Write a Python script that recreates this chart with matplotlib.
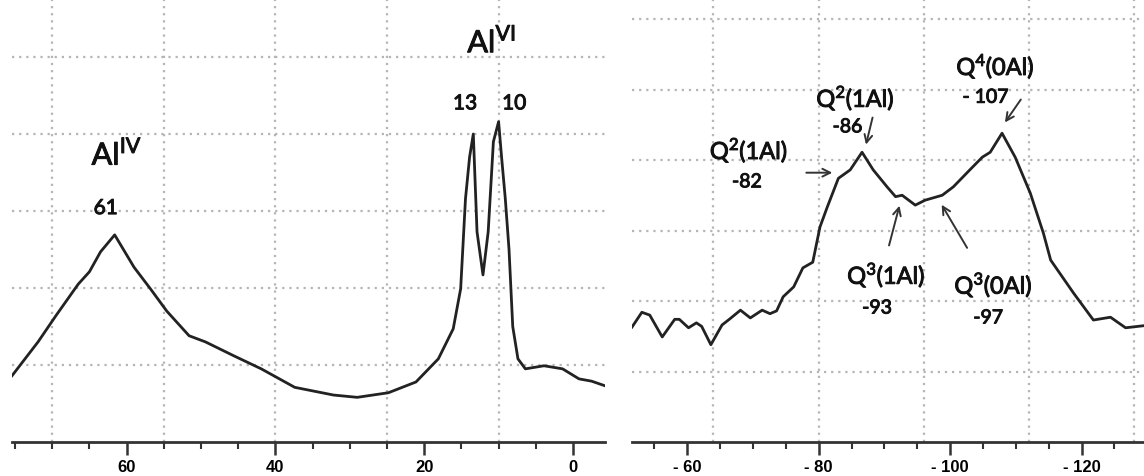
import matplotlib
matplotlib.use("Agg")
import matplotlib.pyplot as plt
import matplotlib.patheffects as pe
from matplotlib.ticker import MultipleLocator, FuncFormatter

plt.rcParams['font.family'] = ['Lato', 'DejaVu Sans']
plt.rcParams['mathtext.fontset'] = 'custom'
plt.rcParams['mathtext.rm'] = 'Lato'

# 27Al spectrum (left)
al_shift = [75.4, 71.9, 69.5, 66.5, 65.0, 63.5, 61.6, 59.0, 56.8, 54.6, 51.6, 49.4,
            45.6, 41.9, 37.4, 32.2, 29.0, 24.8, 21.1, 18.1, 16.1, 15.1, 14.45, 13.9,
            13.4, 12.9, 12.1, 11.4, 10.7, 10.0, 9.6, 9.1, 8.6, 8.1, 7.4, 6.4, 3.9,
            1.4, -0.8, -2.5, -4.3]
al_int = [0.86, 1.30, 1.64, 2.05, 2.21, 2.47, 2.69, 2.27, 1.99, 1.70, 1.38, 1.30,
          1.12, 0.95, 0.71, 0.61, 0.58, 0.64, 0.78, 1.08, 1.47, 1.99, 3.16, 3.70,
          4.00, 2.73, 2.17, 2.73, 3.90, 4.16, 3.70, 3.16, 2.50, 1.50, 1.08, 0.95, 0.99,
          0.95, 0.82, 0.79, 0.73]

# 29Si spectrum (right)
si_shift = [-51.6, -53.1, -54.3, -56.2, -58.1, -58.8, -60.2, -61.4, -62.2, -63.6,
            -65.3, -66.4, -68.1, -69.6, -71.4, -72.6, -73.6, -74.6, -76.2, -77.6,
            -79.1, -80.2, -81.3, -83.0, -84.8, -86.6, -88.3, -90.4, -91.7, -92.7,
            -94.7, -96.2, -98.8, -100.5, -103.0, -104.9, -106.1, -107.9, -109.9,
            -112.2, -114.2, -115.3, -118.8, -121.8, -124.4, -126.7, -129.5]
si_int = [1.63, 1.84, 1.80, 1.49, 1.74, 1.74, 1.62, 1.69, 1.64, 1.38, 1.66, 1.74,
          1.87, 1.76, 1.87, 1.82, 1.86, 2.06, 2.20, 2.47, 2.55, 3.05, 3.33, 3.74,
          3.86, 4.11, 3.86, 3.62, 3.48, 3.50, 3.36, 3.43, 3.50, 3.62, 3.86, 4.04,
          4.11, 4.38, 4.04, 3.53, 2.96, 2.58, 2.11, 1.73, 1.77, 1.62, 1.65]

al_xgrid = [70, 55, 40, 25, 10]
al_ygrid = [1, 2, 3, 4, 5]
si_xgrid = [-64, -80, -96, -112, -128]
si_ygrid = [1, 2, 3, 4, 5, 6]

# peak labels: (text, x, y, size, align)
al_labels = [(r'Al$^{\rm IV}$', 64.7, 3.6, 22, 'left'),
             ('61', 62.8, 2.96, 15, 'center'),
             (r'Al$^{\rm VI}$', 14.2, 5.06, 22, 'left'),
             ('13', 14.5, 4.32, 15, 'center'),
             ('10', 7.9, 4.32, 15, 'center')]
si_labels = [(r'Q$^{2}$(1Al)', -69.4, 4.14, 17), ('-82', -69.1, 3.69, 14),
             (r'Q$^{2}$(1Al)', -85.6, 4.88, 17), ('-86', -84.4, 4.47, 14),
             (r'Q$^{4}$(0Al)', -106.9, 5.33, 17), ('- 107', -105.4, 4.89, 14),
             (r'Q$^{3}$(1Al)', -90.3, 2.37, 17), ('-93', -88.9, 1.90, 14),
             (r'Q$^{3}$(0Al)', -106.6, 2.23, 17), ('-97', -105.8, 1.76, 14)]
# arrows: (x_from, y_from, x_to, y_to)
si_arrows = [(-77.7, 3.82, -82.5, 3.82),
             (-88.3, 4.64, -87.1, 4.18),
             (-111.0, 4.89, -108.1, 4.50),
             (-90.6, 2.75, -92.4, 3.39),
             (-102.8, 2.72, -98.5, 3.40)]

heavy = [pe.withStroke(linewidth=0.7, foreground='#111111')]

fig = plt.figure(figsize=(11.44, 4.77), dpi=100)
W, H = 1144.0, 477.0
axis_y = 443
ax1 = fig.add_axes([12 / W, (H - axis_y) / H, 593 / W, axis_y / H])
ax2 = fig.add_axes([632 / W, (H - axis_y) / H, 512 / W, axis_y / H])


def style(ax, xgrid, ygrid):
    for s in ['top', 'right', 'left']:
        ax.spines[s].set_visible(False)
    ax.spines['bottom'].set_linewidth(2)
    ax.spines['bottom'].set_color('#333333')
    for g in xgrid:
        ax.axvline(g, color='#b5b5b5', lw=1.6, ls=(0, (1, 2.2)), zorder=0)
    for g in ygrid:
        ax.axhline(g, color='#b5b5b5', lw=1.6, ls=(0, (1, 2.2)), zorder=0)
    ax.set_yticks([])
    ax.xaxis.set_major_locator(MultipleLocator(20))
    ax.xaxis.set_minor_locator(MultipleLocator(5))
    ax.tick_params(axis='x', which='major', length=9, width=1.8, color='#333333',
                   pad=3, labelsize=12)
    ax.tick_params(axis='x', which='minor', length=5, width=1.5, color='#333333')
    ax.patch.set_alpha(0)


ax1.plot(al_shift, al_int, color='#222222', lw=2.0, solid_joinstyle='round')
ax1.set_xlim(75.4, -4.3)
ax1.set_ylim(0, axis_y / 77.0)
style(ax1, al_xgrid, al_ygrid)
ax1.xaxis.set_major_formatter(FuncFormatter(lambda v, p: '%d' % v))
for lab in ax1.get_xticklabels():
    lab.set_fontfamily('Liberation Sans')
    lab.set_fontweight('bold')
for t, x, y, s, ha in al_labels:
    ax1.text(x, y, t, fontsize=s, ha=ha, va='baseline', color='#111111',
             path_effects=heavy)

ax2.plot(si_shift, si_int, color='#222222', lw=2.0, solid_joinstyle='round')
ax2.set_xlim(-51.6, -129.5)
ax2.set_ylim(0, axis_y / 70.5)
style(ax2, si_xgrid, si_ygrid)
ax2.xaxis.set_major_formatter(FuncFormatter(lambda v, p: '- %d' % abs(v)))
for lab in ax2.get_xticklabels():
    lab.set_fontfamily('Liberation Sans')
    lab.set_fontweight('bold')
for t, x, y, s in si_labels:
    ax2.text(x, y, t, fontsize=s, ha='center', va='center', color='#111111',
             path_effects=heavy)
for x0, y0, x1, y1 in si_arrows:
    ax2.annotate('', xy=(x1, y1), xytext=(x0, y0),
                 arrowprops=dict(arrowstyle='->', color='#333333', lw=1.4,
                                 mutation_scale=14))

fig.savefig('out.png', dpi=100)
